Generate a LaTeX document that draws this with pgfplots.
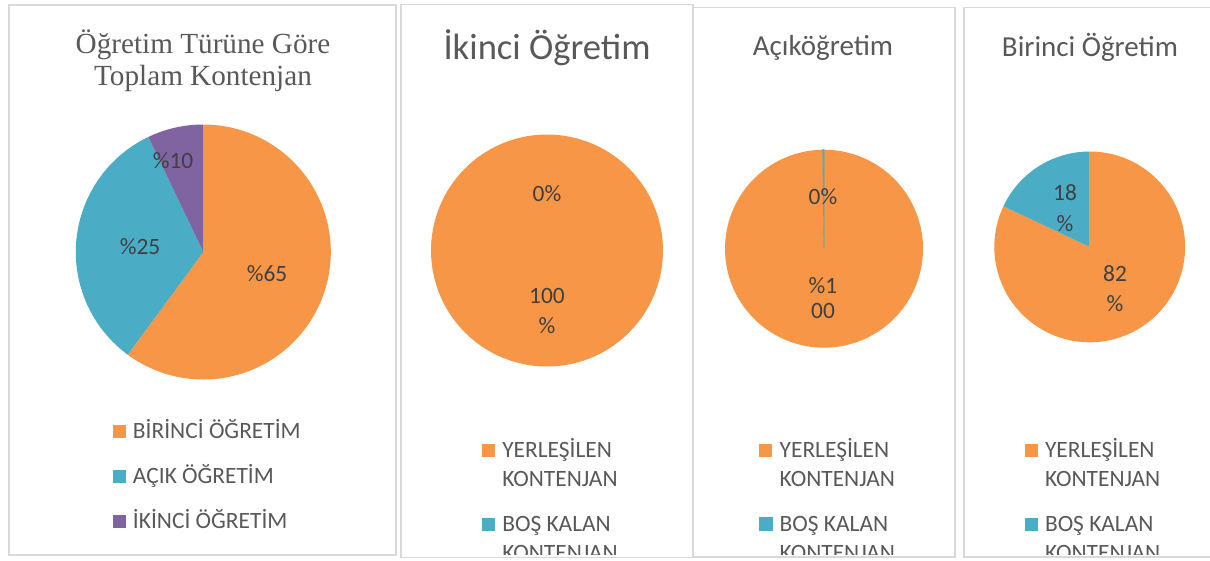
\documentclass[border=0pt]{standalone}
\usepackage{pgfplots}
\pgfplotsset{compat=1.18}
\usepackage{fontspec}
\setmainfont{Carlito}
\newfontfamily\tnr{Liberation Serif}
\definecolor{cOrange}{HTML}{F79646}
\definecolor{cTeal}{HTML}{4BACC6}
\definecolor{cPurple}{HTML}{8064A2}
\definecolor{cTitle}{HTML}{595959}
\definecolor{cLabel}{HTML}{404040}
\definecolor{cFrame}{HTML}{D9D9D9}

% slice: {cx}{cy}{r}{cumulative share before}{share}{colour}; clockwise from 12 o'clock
\newcommand{\pieslice}[7][]{%
  \addplot[draw=none, fill=#7, domain={90-3.6*(#5+#6)}:{90-3.6*#5}, samples=150, variable=\t, #1]
    ({#2+#4*cos(\t)},{#3-#4*sin(\t)}) -- (axis cs:#2,#3) -- cycle;}

\pgfplotsset{
  panel/.style={x=1pt, y=1pt, xmin=0, xmax=1210, ymin=0, ymax=561, y dir=reverse,
    axis lines=none, ticks=none, at={(0pt,0pt)}, anchor=north west, clip=false,
    legend image code/.code={\fill[##1] (0pt,1pt) rectangle (13pt,14pt);}},
  leg1/.style={legend style={at={(#1)}, anchor=north west, draw=none, fill=none,
    inner sep=0pt, outer sep=0pt, row sep=29pt, column sep=7pt,
    font=\fontsize{23.4}{29}\selectfont, text=cTitle,
    cells={anchor=base west},
    nodes={inner sep=0pt, outer sep=0pt, text height=16pt, text depth=0pt}}},
  leg2/.style={legend style={at={(#1)}, anchor=north west, draw=none, fill=none,
    inner sep=0pt, outer sep=0pt, row sep=28pt, column sep=7pt,
    font=\fontsize{23.4}{29}\selectfont, text=cTitle,
    cells={anchor=base west},
    nodes={inner sep=0pt, outer sep=0pt, text height=16pt, text depth=30pt}}},
}
\tikzset{lab/.style={font=\fontsize{23.4}{28}\selectfont, text=cLabel, anchor=center}}
\newcommand{\twoline}[2]{\begin{tabular}[t]{@{}l@{}}#1\\#2\end{tabular}}

\begin{document}
\begin{tikzpicture}
\path[use as bounding box] (0pt,0pt) rectangle (1210pt,-561pt);
\fill[white] (0pt,0pt) rectangle (1210pt,-561pt);

% ---------- Panel 1 ----------
\begin{axis}[panel, leg1={0.09339,0.24688}]
\pieslice{203.3}{252}{127.5}{0}{60.1}{cOrange}
\addlegendentry{BİRİNCİ ÖĞRETİM}
\pieslice{203.3}{252}{127.5}{60.1}{32.8}{cTeal}
\addlegendentry{AÇIK ÖĞRETİM}
\pieslice{203.3}{252}{127.5}{92.9}{7.1}{cPurple}
\addlegendentry{İKİNCİ ÖĞRETİM}
\node[anchor=base, font=\tnr\fontsize{29.2}{32}\selectfont, text=cTitle] at (axis cs:203,53.3) {Öğretim Türüne Göre};
\node[anchor=base, font=\tnr\fontsize{29.2}{32}\selectfont, text=cTitle] at (axis cs:203,85.5) {Toplam Kontenjan};
\node[lab] at (axis cs:173,161) {\%10};
\node[lab] at (axis cs:140,247) {\%25};
\node[lab] at (axis cs:267,274) {\%65};
\end{axis}

% ---------- Panel 2 ----------
\begin{axis}[panel, leg2={0.39860,0.21301}]
\pieslice{547}{250.5}{116}{0}{100}{cOrange}
\addlegendentry{\twoline{YERLEŞİLEN}{KONTENJAN}}
\addlegendimage{draw=none, fill=cTeal}
\addlegendentry{\twoline{BOŞ KALAN}{KONTENJAN}}
\node[anchor=base, font=\fontsize{36.6}{40}\selectfont, text=cTitle] at (axis cs:547,59) {İkinci Öğretim};
\node[lab] at (axis cs:547,194) {0\%};
\node[lab] at (axis cs:547,296) {100};
\node[lab] at (axis cs:547,325.5) {\%};
\end{axis}

% ---------- Panel 3 ----------
\begin{axis}[panel, leg2={0.62727,0.21301}]
\pieslice{824}{248.7}{99}{0}{99.8}{cOrange}
\addlegendentry{\twoline{YERLEŞİLEN}{KONTENJAN}}
\pieslice[draw=cTeal, line width=0.7pt]{824}{248.7}{99}{99.8}{0.2}{cTeal}
\addlegendentry{\twoline{BOŞ KALAN}{KONTENJAN}}
\node[anchor=base, font=\fontsize{29}{34}\selectfont, text=cTitle] at (axis cs:823,55.5) {Açıköğretim};
\node[lab] at (axis cs:823,197) {0\%};
\node[lab] at (axis cs:823,286) {\%1};
\node[lab] at (axis cs:823,310.5) {00};
\end{axis}

% ---------- Panel 4 ----------
\begin{axis}[panel, leg2={0.84711,0.21301}]
\pieslice{1089.7}{246.9}{95.4}{0}{82}{cOrange}
\addlegendentry{\twoline{YERLEŞİLEN}{KONTENJAN}}
\pieslice{1089.7}{246.9}{95.4}{82}{18}{cTeal}
\addlegendentry{\twoline{BOŞ KALAN}{KONTENJAN}}
\node[anchor=base, font=\fontsize{29}{34}\selectfont, text=cTitle] at (axis cs:1090,56) {Birinci Öğretim};
\node[lab] at (axis cs:1065,193) {18};
\node[lab] at (axis cs:1065,223.6) {\%};
\node[lab] at (axis cs:1115,273.7) {82};
\node[lab] at (axis cs:1115,304) {\%};
\end{axis}

% clip legends at frame bottom, then frames
\fill[white] (0pt,-554.5pt) rectangle (1215pt,-565pt);
\begin{scope}[draw=cFrame, line width=1.8pt]
\draw (9pt,-5pt) rectangle (396pt,-555pt);
\draw (401pt,-4.5pt) rectangle (693pt,-557.5pt);
\draw (693pt,-7.5pt) rectangle (955pt,-557pt);
\draw (964pt,-7.5pt) rectangle (1220pt,-557pt);
\end{scope}
\end{tikzpicture}
\end{document}
